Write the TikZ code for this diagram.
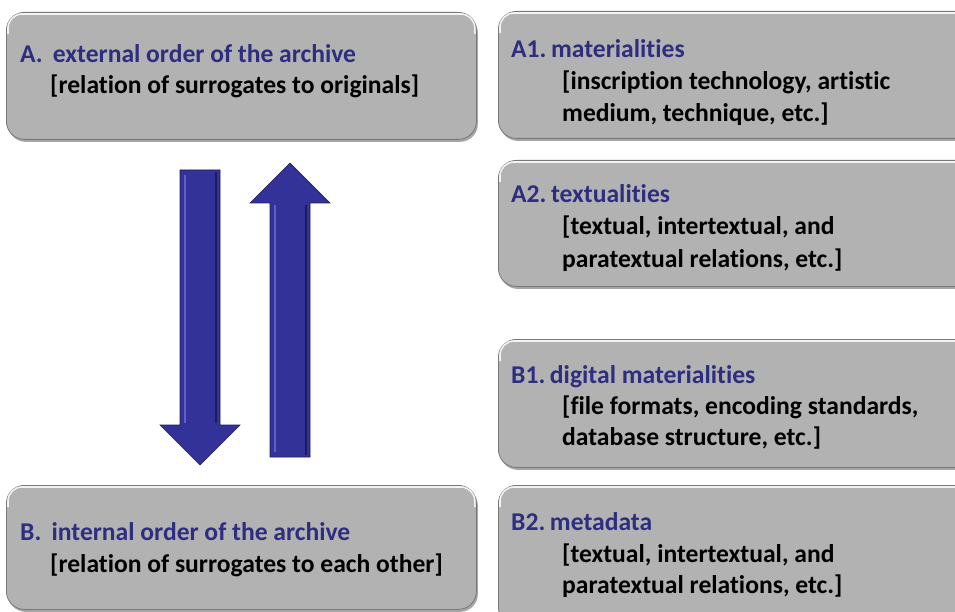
\documentclass[tikz,border=0pt]{standalone}
\usepackage{fontspec}
\setmainfont{Carlito}[Ligatures=NoCommon]
\usetikzlibrary{shadows}
\definecolor{boxgray}{RGB}{178,178,178}
\definecolor{edgegray}{RGB}{120,120,120}
\definecolor{titleblue}{RGB}{46,46,128}
\definecolor{arrowblue}{RGB}{50,50,152}
\definecolor{arrowlight}{RGB}{95,95,200}
\definecolor{arrowdark}{RGB}{28,28,90}
\tikzset{
  panel/.style={rectangle, rounded corners=18pt, fill=boxgray, draw=edgegray, line width=0.8pt,
    anchor=north west, inner sep=0pt,
    drop shadow={shadow xshift=1.5pt, shadow yshift=-2.5pt, fill=black, opacity=0.35}},
  hilite/.style={draw=white, line width=1.6pt, opacity=0.85, rounded corners=14pt},
  title/.style={anchor=base west, inner sep=0pt, text=titleblue, font=\fontsize{25.6}{30}\selectfont\bfseries},
  body/.style={anchor=base west, inner sep=0pt, text=black, font=\fontsize{25.6}{30}\selectfont\bfseries},
  blockarrow/.style={fill=arrowblue, draw=arrowdark, line width=0.6pt, line join=miter},
  bevel/.style={draw=arrowlight, line width=2.5pt}
}
\begin{document}
\begin{tikzpicture}[x=1pt,y=-1pt]
\useasboundingbox (0,0) rectangle (955,612);
\clip (0,0) rectangle (955,612);
% panels
\node[panel, minimum width=470pt, minimum height=127pt] (A) at (6,12) {};
\node[panel, minimum width=480pt, minimum height=127pt] (A1) at (498,11) {};
\node[panel, minimum width=480pt, minimum height=126pt] (A2) at (498,160) {};
\node[panel, minimum width=480pt, minimum height=128pt] (B1) at (498,339) {};
\node[panel, minimum width=480pt, minimum height=140pt] (B2) at (498,485) {};
\node[panel, minimum width=470pt, minimum height=124pt] (B) at (6,485) {};
% top highlights
\foreach \p in {A,A1,A2,B1,B2,B}{
  \draw[hilite] ([xshift=2pt,yshift=-22pt]\p.north west) -- ([xshift=2pt,yshift=-2pt]\p.north west) -- ([xshift=-2pt,yshift=-2pt]\p.north east) -- ([xshift=-2pt,yshift=-22pt]\p.north east);
}
% texts
\node[title] (At) at (20,63) {A.\hspace{0.4em}external order of the archive};
\node[body] (As) at (50,94) {[relation of surrogates to originals]};
\node[title] (Bt) at (20,540) {B.\hspace{0.4em}internal order of the archive};
\node[body] (Bs) at (50,572) {[relation of surrogates to each other]};
\node[title] (A1t) at (511,58) {A1.\hspace{0.18em}materialities};
\node[body] (A1s) at (562,90) {[inscription technology, artistic};
\node[body] (A1u) at (562,122) {medium, technique, etc.]};
\node[title] (A2t) at (511,203) {A2.\hspace{0.18em}textualities};
\node[body] (A2s) at (562,235) {[textual, intertextual, and};
\node[body] (A2u) at (562,267) {paratextual relations, etc.]};
\node[title] (B1t) at (511,383) {B1.\hspace{0.18em}digital materialities};
\node[body] (B1s) at (562,414) {[file formats, encoding standards,};
\node[body] (B1u) at (562,445) {database structure, etc.]};
\node[title] (B2t) at (511,530) {B2.\hspace{0.18em}metadata};
\node[body] (B2s) at (562,562) {[textual, intertextual, and};
\node[body] (B2u) at (562,593) {paratextual relations, etc.]};
% block arrows
\draw[blockarrow] (180,170) -- (220,170) -- (220,425) -- (240,425) -- (200,465) -- (160,425) -- (180,425) -- cycle;
\draw[bevel] (185,175) -- (185,423);
\draw[arrowdark, line width=2pt] (216,172) -- (216,423);
\draw[blockarrow] (270,457) -- (310,457) -- (310,203) -- (330,203) -- (290,163) -- (250,203) -- (270,203) -- cycle;
\draw[bevel] (275,452) -- (275,205);
\draw[arrowdark, line width=2pt] (306,455) -- (306,205);
\end{tikzpicture}
\end{document}
